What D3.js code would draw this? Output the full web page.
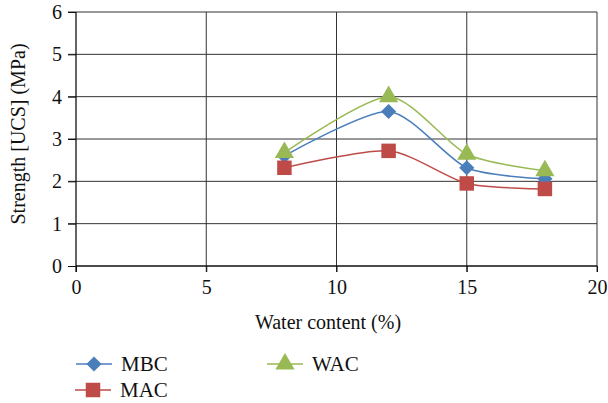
<!DOCTYPE html>
<html>
<head>
<meta charset="utf-8">
<script src="https://cdn.jsdelivr.net/npm/d3@7"></script>
<style>
  svg text { font-family: 'Liberation Serif', serif !important; }
</style>
</head>
<body style="margin:0;background:#fff">
<svg id="chart" width="608" height="403"></svg>
<script>
// water content (%)
var waterContent = [8, 12, 15, 18];
// UCS strength (MPa)
var mbc = [2.6, 3.65, 2.32, 2.06];
var mac = [2.32, 2.72, 1.95, 1.82];
var wac = [2.68, 4.0, 2.64, 2.25];
var xTicks = [0, 5, 10, 15, 20];
var yTicks = [0, 1, 2, 3, 4, 5, 6];

var series = [
  {name: "MBC", values: mbc, color: "#4a7ebb", shape: d3.symbolSquare, size: 115, rot: 45, lx: 76, ly: 364},
  {name: "MAC", values: mac, color: "#be4b48", shape: d3.symbolSquare, size: 210, rot: 0, lx: 75, ly: 390},
  {name: "WAC", values: wac, color: "#98b954", shape: d3.symbolTriangle, size: 160, rot: 0, lx: 267, ly: 364}
];

var svg = d3.select("#chart");
var x = d3.scaleLinear().domain([0, 20]).range([76, 597]);
var y = d3.scaleLinear().domain([0, 6]).range([266, 12]);

// grid
svg.append("g").selectAll("line").data(yTicks.slice(1)).enter().append("line")
  .attr("x1", 68).attr("x2", x(20))
  .attr("y1", function(d){ return y(d); }).attr("y2", function(d){ return y(d); })
  .attr("stroke", "#333").attr("stroke-width", 1);
svg.append("g").selectAll("line").data(xTicks.slice(1)).enter().append("line")
  .attr("x1", function(d){ return x(d); }).attr("x2", function(d){ return x(d); })
  .attr("y1", y(6)).attr("y2", y(0) + 6)
  .attr("stroke", "#333").attr("stroke-width", 1);

// axes
var xAxis = svg.append("g").attr("transform", "translate(0," + y(0) + ")")
  .call(d3.axisBottom(x).tickValues(xTicks).tickFormat(d3.format("d")).tickSize(6).tickPadding(8));
var yAxis = svg.append("g").attr("transform", "translate(" + x(0) + ",0)")
  .call(d3.axisLeft(y).tickValues(yTicks).tickFormat(d3.format("d")).tickSize(8).tickPadding(6));
[xAxis, yAxis].forEach(function(a){
  a.attr("font-family", null).attr("font-size", 20);
  a.select(".domain").attr("stroke", "#111").attr("stroke-width", 1.3);
  a.selectAll(".tick line").attr("stroke", "#111");
  a.selectAll("text").attr("fill", "#111");
});
xAxis.select(".domain").attr("d", "M" + x(0) + ",0H" + x(20));
yAxis.select(".domain").attr("d", "M0," + y(6) + "V" + (y(0) + 6));

svg.append("text").attr("x", 328).attr("y", 329).attr("text-anchor", "middle")
  .attr("font-size", 20).attr("fill", "#111").text("Water content (%)");
svg.append("text").attr("transform", "translate(25,134) rotate(-90)").attr("text-anchor", "middle")
  .attr("font-size", 20).attr("fill", "#111").text("Strength [UCS] (MPa)");

// lines
var line = d3.line()
  .x(function(d, i){ return x(waterContent[i]); })
  .y(function(d){ return y(d); })
  .curve(d3.curveCardinal.tension(0.25));

series.forEach(function(s){
  svg.append("path").datum(s.values).attr("d", line)
    .attr("fill", "none").attr("stroke", s.color).attr("stroke-width", 1.5);
});
series.forEach(function(s){
  svg.append("g").selectAll("path").data(s.values).enter().append("path")
    .attr("d", d3.symbol().type(s.shape).size(s.size))
    .attr("transform", function(d, i){ return "translate(" + x(waterContent[i]) + "," + y(d) + ") rotate(" + s.rot + ")"; })
    .attr("fill", s.color);
});

// legend
series.forEach(function(s){
  var g = svg.append("g").attr("transform", "translate(" + s.lx + "," + s.ly + ")");
  g.append("line").attr("x1", 0).attr("x2", 36).attr("stroke", s.color).attr("stroke-width", 1.5);
  g.append("path").attr("d", d3.symbol().type(s.shape).size(s.size))
    .attr("transform", "translate(18,0) rotate(" + s.rot + ")").attr("fill", s.color);
  g.append("text").attr("x", 45).attr("y", 7).attr("font-size", 21).attr("fill", "#111").text(s.name);
});
</script>
</body>
</html>
